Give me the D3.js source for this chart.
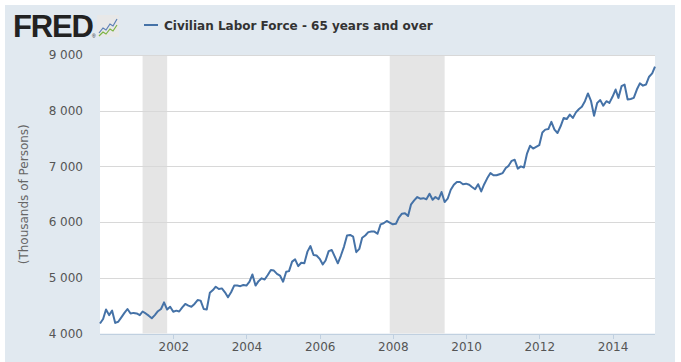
<!DOCTYPE html>
<html>
<head>
<meta charset="utf-8">
<script src="https://cdn.jsdelivr.net/npm/d3@7"></script>
<style>
  body { margin: 0; background: #fff; }
  svg { display: block; }
</style>
</head>
<body>
<svg width="681" height="362"></svg>
<script>
// Civilian Labor Force - 65 years and over, monthly, Jan 2000 .. Mar 2015 (thousands)
var startMonth = "2000-01-01";
var values = [
  // 2000
  4180, 4260, 4430, 4330, 4410, 4190, 4210, 4290, 4370, 4440, 4360, 4370,
  // 2001
  4360, 4330, 4395, 4360, 4320, 4275, 4330, 4400, 4440, 4560, 4430, 4480,
  // 2002
  4390, 4410, 4395, 4470, 4530, 4500, 4480, 4530, 4600, 4590, 4440, 4430,
  // 2003
  4730, 4780, 4840, 4800, 4810, 4740, 4650, 4740, 4860, 4860, 4850, 4870,
  // 2004
  4860, 4930, 5060, 4860, 4940, 4990, 4970, 5050, 5140, 5130, 5070, 5040,
  // 2005
  4930, 5110, 5120, 5290, 5330, 5210, 5270, 5260, 5470, 5570, 5410, 5400,
  // 2006
  5340, 5240, 5310, 5480, 5500, 5380, 5260, 5400, 5560, 5760, 5770, 5740,
  // 2007
  5460, 5520, 5720, 5760, 5820, 5830, 5830, 5790, 5960, 5980, 6020, 5990,
  // 2008
  5960, 5970, 6080, 6150, 6160, 6110, 6320, 6390, 6450, 6420, 6430, 6410,
  // 2009
  6510, 6400, 6450, 6410, 6540, 6360, 6420, 6580, 6670, 6720, 6720, 6680,
  // 2010
  6690, 6670, 6630, 6590, 6680, 6550, 6680, 6790, 6880, 6840, 6840, 6860,
  // 2011
  6880, 6970, 7010, 7100, 7120, 6960, 7000, 6980, 7230, 7370, 7320, 7350,
  // 2012
  7380, 7610, 7660, 7670, 7800, 7660, 7600, 7720, 7870, 7850, 7930, 7870,
  // 2013
  7970, 8030, 8070, 8170, 8310, 8170, 7910, 8140, 8190, 8090, 8170, 8140,
  // 2014
  8250, 8380, 8230, 8440, 8470, 8200, 8210, 8230, 8380, 8490, 8450, 8470,
  // 2015
  8610, 8670, 8790
];
var recessions = [
  ["2001-03-01", "2001-11-01"],
  ["2007-12-01", "2009-06-01"]
];
var yTicks = [4000, 5000, 6000, 7000, 8000, 9000];
var xTickYears = [2002, 2004, 2006, 2008, 2010, 2012, 2014];
var seriesName = "Civilian Labor Force - 65 years and over";
var yTitle = "(Thousands of Persons)";

var parse = d3.utcParse("%Y-%m-%d");
var t0 = parse(startMonth);
var data = values.map((v, i) => ({date: d3.utcMonth.offset(t0, i), value: v}));

var svg = d3.select("svg"),
    width = +svg.attr("width"),
    height = +svg.attr("height");

var margin = {top: 55, right: 26, bottom: 28, left: 100};
var innerWidth = width - margin.left - margin.right;
var innerHeight = height - margin.top - margin.bottom - 0.5;

// light blue panel
svg.append("rect")
    .attr("x", 5).attr("y", 5)
    .attr("width", 670).attr("height", 357)
    .attr("fill", "#e1e9f0");

var xScale = d3.scaleUtc()
    .domain(d3.extent(data, d => d.date))
    .range([0, innerWidth]);

var yScale = d3.scaleLinear()
    .domain([4000, 9000])
    .range([innerHeight, 0]);

var g = svg.append("g")
    .attr("transform", `translate(${margin.left},${margin.top})`);

g.append("rect")
    .attr("width", innerWidth)
    .attr("height", innerHeight)
    .attr("fill", "#fff");

// recession bars
g.selectAll(".rec").data(recessions).enter().append("rect")
    .attr("class", "rec")
    .attr("x", d => xScale(parse(d[0])))
    .attr("width", d => xScale(parse(d[1])) - xScale(parse(d[0])))
    .attr("y", 0)
    .attr("height", innerHeight)
    .attr("fill", "#e5e5e5");

// gridlines + y labels
var fmt = v => d3.format(",")(v).replace(",", " ");
var yAxis = d3.axisLeft(yScale)
    .tickValues(yTicks)
    .tickSize(-innerWidth)
    .tickPadding(17)
    .tickFormat(fmt);

var yG = g.append("g").call(yAxis);
yG.select(".domain").remove();
yG.selectAll(".tick line")
    .attr("stroke", "#d8d8d8")
    .attr("shape-rendering", "crispEdges");
yG.selectAll(".tick text")
    .attr("fill", "#555")
    .attr("font-size", 12)
    .attr("font-family", "DejaVu Sans, sans-serif");
yG.selectAll(".tick").filter(d => d === 4000).select("line").remove();

// x axis
var xAxis = d3.axisBottom(xScale)
    .tickValues(xTickYears.map(y => new Date(Date.UTC(y, 0, 1))))
    .tickSize(5)
    .tickPadding(4)
    .tickFormat(d3.utcFormat("%Y"));

var xG = g.append("g")
    .attr("transform", `translate(0,${innerHeight})`)
    .call(xAxis);
xG.select(".domain")
    .attr("stroke", "#c0d0e0")
    .attr("shape-rendering", "crispEdges")
    .attr("d", `M0,0.5H${innerWidth}`);
xG.selectAll(".tick line")
    .attr("stroke", "#c0d0e0")
    .attr("shape-rendering", "crispEdges");
xG.selectAll(".tick text")
    .attr("fill", "#555")
    .attr("font-size", 12)
    .attr("font-family", "DejaVu Sans, sans-serif");

// y title
svg.append("text")
    .attr("transform", `translate(28,${margin.top + innerHeight / 2}) rotate(-90)`)
    .attr("text-anchor", "middle")
    .attr("fill", "#666")
    .attr("font-size", 12)
    .attr("font-family", "DejaVu Sans, sans-serif")
    .text(yTitle);

// the series line
var lineGenerator = d3.line()
    .x(d => xScale(d.date))
    .y(d => yScale(d.value));

g.append("path")
    .attr("d", lineGenerator(data))
    .attr("fill", "none")
    .attr("stroke", "#4572a7")
    .attr("stroke-width", 2)
    .attr("stroke-linejoin", "round");

// header: FRED logo
var logo = svg.append("g");
logo.append("text")
    .attr("x", 13).attr("y", 37)
    .attr("font-family", "Liberation Sans, Arial, sans-serif")
    .attr("font-weight", "bold")
    .attr("font-size", 31)
    .attr("letter-spacing", -1.2)
    .attr("fill", "#222")
    .text("FRED");
logo.append("text")
    .attr("x", 92).attr("y", 38)
    .attr("font-family", "Liberation Sans, Arial, sans-serif")
    .attr("font-size", 5)
    .attr("fill", "#222")
    .text("®");
var icon = logo.append("g").attr("transform", "translate(97,15)");
icon.append("rect")
    .attr("width", 22).attr("height", 22)
    .attr("fill", "#e8e8e8");
icon.append("path")
    .attr("d", "M2,18 L6,13 L9,15 L13,9 L16,11 L20,4")
    .attr("fill", "none").attr("stroke", "#5b7fb5").attr("stroke-width", 1.2);
icon.append("path")
    .attr("d", "M2,21 L6,17 L9,19 L13,14 L16,16 L20,10")
    .attr("fill", "none").attr("stroke", "#7cb342").attr("stroke-width", 1.2);

// legend
svg.append("line")
    .attr("x1", 144).attr("x2", 158)
    .attr("y1", 25).attr("y2", 25)
    .attr("stroke", "#4572a7")
    .attr("stroke-width", 2);
svg.append("text")
    .attr("x", 164).attr("y", 29.5)
    .attr("font-family", "DejaVu Sans, sans-serif")
    .attr("font-weight", "bold")
    .attr("font-size", 12)
    .attr("fill", "#333")
    .text(seriesName);
</script>
</body>
</html>
